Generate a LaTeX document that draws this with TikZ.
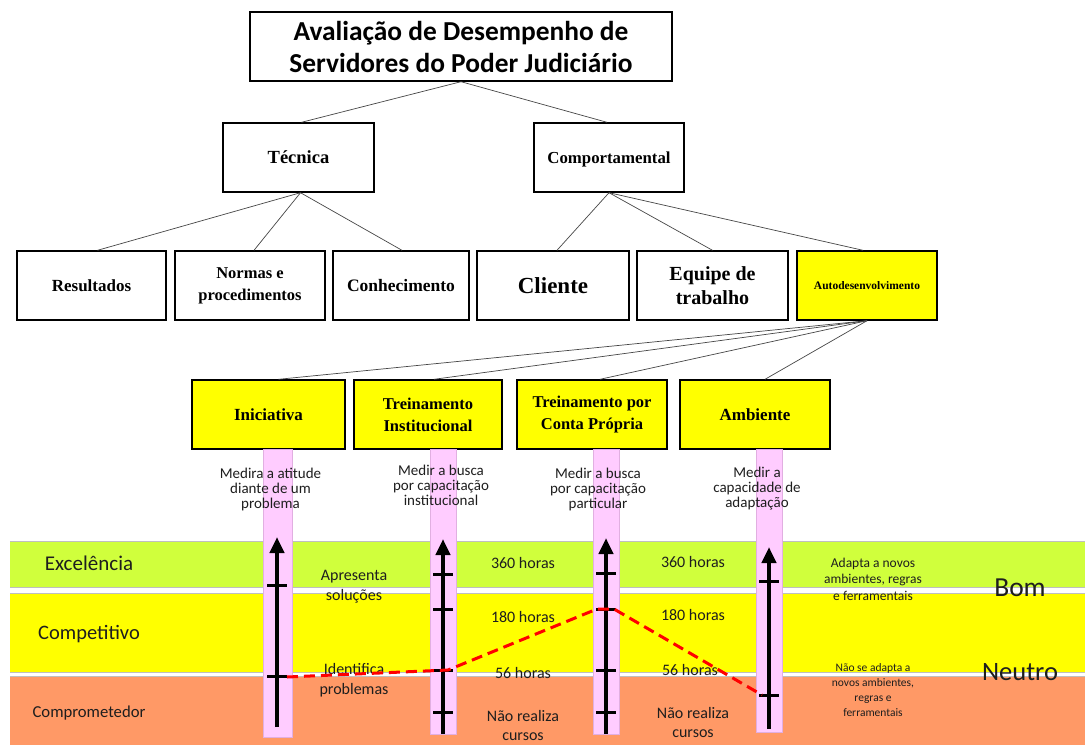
\documentclass[tikz,border=0pt]{standalone}
\usepackage{fontspec}
\setmainfont{Liberation Serif}
\newfontfamily\calib{Carlito}
\usetikzlibrary{arrows.meta}
\definecolor{bgreen}{RGB}{208,255,60}
\definecolor{byellow}{RGB}{255,255,0}
\definecolor{borange}{RGB}{255,153,102}
\definecolor{bpink}{RGB}{255,204,255}
\definecolor{pinkline}{RGB}{225,175,225}
\definecolor{edgegray}{RGB}{70,70,70}
\definecolor{txtgray}{RGB}{30,30,30}
\begin{document}
\begin{tikzpicture}[x=1pt,y=-1pt,
  box/.style={draw=black,line width=1.4pt,fill=white,minimum height=69pt,inner sep=2pt,align=center,font=\bfseries},
  ybox/.style={box,fill=byellow},
  link/.style={draw=edgegray,line width=0.7pt},
  bandfill/.style={draw=black!25,line width=0.8pt},
  colfill/.style={fill=bpink,draw=pinkline,line width=0.6pt},
  scalearrow/.style={line width=4pt,-{Triangle[width=14pt,length=16pt]}},
  tickmark/.style={line width=3pt},
  lbl/.style={font=\calib,text=txtgray,align=center,inner sep=0pt},
  trend/.style={draw=red,line width=3pt,dash pattern=on 11pt off 6pt}
]
\useasboundingbox (0,0) rectangle (1085,745);
\fill[white] (0,0) rectangle (1085,745);

% ---------- tree ----------
\node[box,minimum width=422pt,font=\calib\bfseries\fontsize{27.4}{32}\selectfont] (title) at (461,46.5)
  {Avaliação de Desempenho de\\Servidores do Poder Judiciário};
\node[box,minimum width=151pt,font=\bfseries\fontsize{18.5}{22}\selectfont] (tec) at (298.5,157.5) {Técnica};
\node[box,minimum width=150pt,font=\bfseries\fontsize{16.8}{20}\selectfont,text depth=0pt] (comp) at (609,157.5) {Comportamental};

\node[box,minimum width=149pt,font=\bfseries\fontsize{17}{21}\selectfont] (res) at (91.5,285.5) {Resultados};
\node[box,minimum width=150pt,font=\bfseries\fontsize{16.5}{22}\selectfont] (nor) at (250,285.5) {Normas e\\procedimentos};
\node[box,minimum width=136pt,font=\bfseries\fontsize{17.5}{21}\selectfont] (con) at (401,285.5) {Conhecimento};
\node[box,minimum width=152pt,font=\bfseries\fontsize{23}{26}\selectfont] (cli) at (553,285.5) {Cliente};
\node[box,minimum width=151pt,font=\bfseries\fontsize{20}{24}\selectfont] (equ) at (712.5,285.5) {Equipe de\\trabalho};
\node[ybox,minimum width=140pt,font=\bfseries\fontsize{11.5}{14}\selectfont] (aut) at (867,285.5) {Autodesenvolvimento};

\node[ybox,minimum width=153pt,font=\bfseries\fontsize{17}{22}\selectfont] (ini) at (268.5,414.5) {Iniciativa};
\node[ybox,minimum width=148pt,font=\bfseries\fontsize{16.5}{22}\selectfont] (tri) at (428,414.5) {Treinamento\\Institucional};
\node[ybox,minimum width=150pt,font=\bfseries\fontsize{16.5}{22}\selectfont] (trc) at (592,414.5) {Treinamento por\\Conta Própria};
\node[ybox,minimum width=150pt,font=\bfseries\fontsize{17}{22}\selectfont] (amb) at (755,414.5) {Ambiente};

\draw[link] (title.south) -- ([xshift=3pt]tec.north);
\draw[link] (title.south) -- ([xshift=-2pt]comp.north);
\draw[link] ([xshift=2pt]tec.south) -- ([xshift=6pt]res.north);
\draw[link] ([xshift=2pt]tec.south) -- ([xshift=4pt]nor.north);
\draw[link] ([xshift=2pt]tec.south) -- ([xshift=1pt]con.north);
\draw[link] (comp.south) -- ([xshift=4pt]cli.north);
\draw[link] (comp.south) -- (equ.north);
\draw[link] (comp.south) -- ([xshift=-4pt]aut.north);
\draw[link] (aut.south) -- ([xshift=10pt]ini.north);
\draw[link] (aut.south) -- ([xshift=6pt]tri.north);
\draw[link] (aut.south) -- ([xshift=8pt]trc.north);
\draw[link] (aut.south) -- ([xshift=10pt]amb.north);

% ---------- bands ----------
\fill[bgreen] (10,541) rectangle (1085,587);
\draw[bandfill] (10,541) -- (1085,541) (10,587) -- (1085,587);
\fill[byellow] (10,593) rectangle (1085,672);
\draw[bandfill] (10,593) -- (1085,593) (10,672) -- (1085,672);
\fill[borange] (10,676) rectangle (1085,745);
\draw[bandfill] (10,676) -- (1085,676);

% ---------- pink columns ----------
\filldraw[colfill] (263,449) rectangle (292,737);
\filldraw[colfill] (430,449) rectangle (456,734);
\filldraw[colfill] (593,449) rectangle (619,734);
\filldraw[colfill] (756,449) rectangle (782,732);

% ---------- column descriptions ----------
\node[lbl,font=\calib\fontsize{15}{15}\selectfont] (d1) at (270.5,489) {Medira a atitude\\diante de um\\problema};
\node[lbl,font=\calib\fontsize{15}{15}\selectfont] (d2) at (441,485) {Medir a busca\\por capacitação\\institucional};
\node[lbl,font=\calib\fontsize{15}{15}\selectfont] (d3) at (598,489) {Medir a busca\\por capacitação\\particular};
\node[lbl,font=\calib\fontsize{15}{15}\selectfont] (d4) at (757,489) {Medir a\\capacidade de\\adaptação};

% ---------- band labels ----------
\node[lbl,font=\calib\fontsize{21}{24}\selectfont] (exc) at (89,563) {Excelência};
\node[lbl,font=\calib\fontsize{20.5}{24}\selectfont] (cpt) at (89,634) {Competitivo};
\node[lbl,font=\calib\fontsize{16.7}{20}\selectfont] (cmp) at (89,713) {Comprometedor};

\node[lbl,font=\calib\fontsize{16}{20}\selectfont] (apr) at (354,587) {Apresenta\\soluções};
\node[lbl,font=\calib\fontsize{16}{20}\selectfont] (idf) at (354,680) {Identifica\\problemas};

\node[lbl,font=\calib\fontsize{16}{20}\selectfont] (h1a) at (523,563) {360 horas};
\node[lbl,font=\calib\fontsize{16}{20}\selectfont] (h1b) at (523,617) {180 horas};
\node[lbl,font=\calib\fontsize{16}{20}\selectfont] (h1c) at (523,673) {56 horas};
\node[lbl,font=\calib\fontsize{16}{19}\selectfont] (h1d) at (523,725.5) {Não realiza\\cursos};

\node[lbl,font=\calib\fontsize{16}{20}\selectfont] (h2a) at (693,562) {360 horas};
\node[lbl,font=\calib\fontsize{16}{20}\selectfont] (h2b) at (693,615) {180 horas};
\node[lbl,font=\calib\fontsize{16}{20}\selectfont] (h2c) at (690,670) {56 horas};
\node[lbl,font=\calib\fontsize{16}{19}\selectfont] (h2d) at (693,722.5) {Não realiza\\cursos};

\node[lbl,font=\calib\fontsize{13.5}{16.5}\selectfont] (ad1) at (873,579) {Adapta a novos\\ambientes, regras\\e ferramentais};
\node[lbl,font=\calib\fontsize{11.5}{14.7}\selectfont] (ad2) at (873,690) {Não se adapta a\\novos ambientes,\\regras e\\ferramentais};

\node[lbl,font=\calib\fontsize{27.5}{30}\selectfont] (bom) at (1020,588) {Bom};
\node[lbl,font=\calib\fontsize{26.5}{30}\selectfont] (neu) at (1020,672) {Neutro};

% ---------- scale arrows ----------
\draw[scalearrow] (277,727) -- (277,537);
\foreach \y in {585,676} \draw[tickmark] (267,\y) -- (287,\y);
\draw[scalearrow] (443,734) -- (443,539);
\foreach \y in {574,609,670,712} \draw[tickmark] (433,\y) -- (453,\y);
\draw[scalearrow] (606,734) -- (606,538);
\foreach \y in {573,609,670,712} \draw[tickmark] (596,\y) -- (616,\y);
\draw[scalearrow] (769,729) -- (769,547);
\foreach \y in {581,695} \draw[tickmark] (759,\y) -- (779,\y);

% ---------- trend line ----------
\coordinate (p1) at (287,677);
\coordinate (p2) at (448,670);
\coordinate (p3) at (597,609);
\coordinate (p4) at (614,609);
\coordinate (p5) at (762,695);
\draw[trend] (p1) -- (p2) -- (p3) -- (p4) -- (p5);
\end{tikzpicture}
\end{document}
